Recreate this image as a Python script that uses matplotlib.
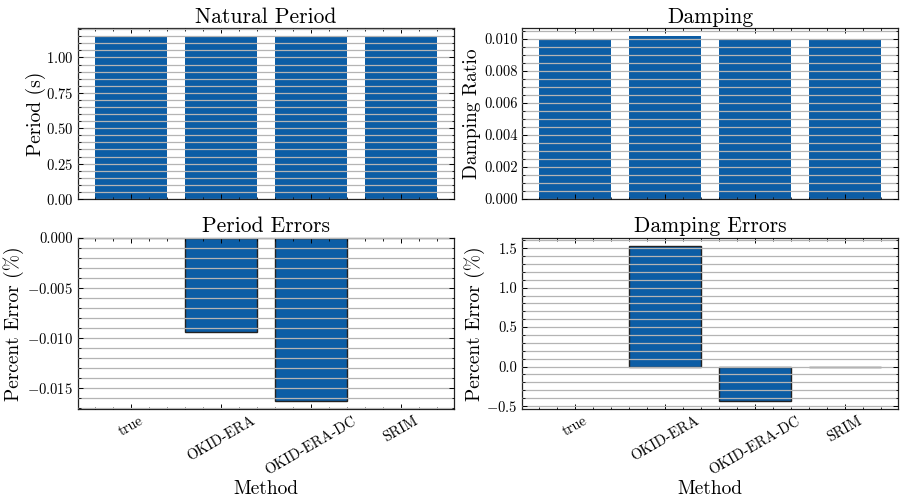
import numpy as np
import matplotlib
matplotlib.use("Agg")
import matplotlib.pyplot as plt
from matplotlib.ticker import AutoMinorLocator, FuncFormatter, MultipleLocator

plt.rcParams['font.family'] = 'serif'
plt.rcParams['font.serif'] = ['cmr10']
plt.rcParams['mathtext.fontset'] = 'cm'
plt.rcParams['axes.formatter.use_mathtext'] = True

methods = ['true', 'OKID-ERA', 'OKID-ERA-DC', 'SRIM']
period = [1.15, 1.15, 1.15, 1.15]
damping = [0.0100, 0.010153, 0.0100, 0.0100]
period_err = [0.0, -0.0094, -0.0163, 0.0]
damping_err = [0.0, 1.53, -0.44, -0.003]

blue = '#0C5DA5'

fig, axes = plt.subplots(2, 2, figsize=(9.01, 5.01), dpi=100, sharex=True)
fig.subplots_adjust(left=0.0866, right=0.9967, top=0.944, bottom=0.1836,
                    wspace=0.183, hspace=0.228)

# (axis, values, title, ylabel, edge colour, ylabel x position)
panels = [
    (axes[0, 0], period, 'Natural Period', 'Period (s)', None, -0.085),
    (axes[0, 1], damping, 'Damping', 'Damping Ratio', None, -0.11),
    (axes[1, 0], period_err, 'Period Errors', 'Percent Error (%)', '#222222', -0.145),
    (axes[1, 1], damping_err, 'Damping Errors', 'Percent Error (%)', '#222222', -0.10),
]

x = np.arange(len(methods))
for ax, vals, title, ylab, edge, lx in panels:
    if edge:
        lw = [0 if v == 0 else 1.0 for v in vals]
        ax.bar(x, vals, width=0.8, color=blue, edgecolor=edge, linewidth=lw)
    else:
        ax.bar(x, vals, width=0.8, color=blue)
    ax.set_title(title, fontsize=15.5, pad=4)
    ax.set_ylabel(ylab, fontsize=14)
    ax.yaxis.set_label_coords(lx, 0.5)
    ax.set_axisbelow(False)
    ax.yaxis.set_minor_locator(AutoMinorLocator())
    ax.xaxis.set_minor_locator(AutoMinorLocator())
    ax.grid(True, which='both', axis='y', color='#b4b4b4', linewidth=0.9)
    ax.tick_params(which='both', direction='in', top=True, right=True, labelsize=10.5)
    ax.tick_params(which='major', length=3.5, width=0.7)
    ax.tick_params(which='minor', length=1.8, width=0.6)
    for s in ax.spines.values():
        s.set_linewidth(0.9)
        s.set_color('#222222')

for ax in axes[1]:
    ax.set_xticks(x)
    ax.set_xticklabels(methods, rotation=30, ha='center', fontsize=10.5)
    ax.set_xlabel('Method', fontsize=14, labelpad=2)

axes[0, 1].yaxis.set_major_locator(MultipleLocator(0.002))
axes[0, 1].yaxis.set_minor_locator(AutoMinorLocator(4))
axes[0, 1].yaxis.set_major_formatter(FuncFormatter(lambda v, p: '%.3f' % v))

axes[1, 0].set_yticks([0.0, -0.005, -0.010, -0.015])
axes[1, 0].yaxis.set_major_formatter(FuncFormatter(
    lambda v, p: ('$-$' if v < -1e-12 else '') + '%.3f' % abs(v)))
axes[1, 1].yaxis.set_major_formatter(FuncFormatter(
    lambda v, p: ('$-$' if v < -1e-12 else '') + '%.1f' % abs(v)))

fig.savefig('out.png', dpi=100)
